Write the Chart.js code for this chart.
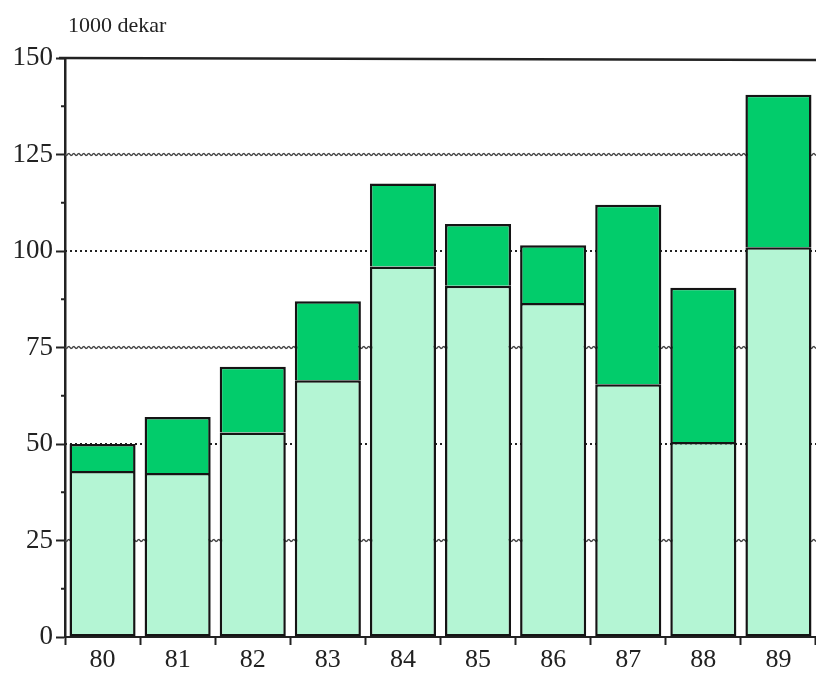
<!DOCTYPE html>
<html>
<head>
<meta charset="utf-8">
<style>
  html, body { margin: 0; padding: 0; background: #fff; }
  #wrap { width: 816px; height: 692px; }
</style>
<script src="https://cdn.jsdelivr.net/npm/chart.js@4.4.1/dist/chart.umd.min.js"></script>
</head>
<body>
<div id="wrap"><canvas id="grafico"></canvas></div>
<script>
'use strict';

// Datos (1000 dekar)
const ANIOS = ['80', '81', '82', '83', '84', '85', '86', '87', '88', '89'];
const PARTE_BAJA = [43, 42.5, 53, 66.5, 96, 91, 86.5, 65.5, 50.5, 101];
const PARTE_ALTA = [7, 14.5, 17, 20.5, 21.5, 16, 15, 46.5, 40, 39.5];
const TICKS_Y = [0, 25, 50, 75, 100, 125, 150];
const TICKS_MENORES = [12.5, 37.5, 62.5, 87.5, 112.5, 137.5];
const LINEAS_PUNTEADAS = [50, 100];
const LINEAS_ONDULADAS = [25, 75, 125];

const FUENTE = '"Liberation Serif", "DejaVu Serif", serif';

// Lineas de fondo, marco superior y marcas menores
const pluginFondo = {
    id: 'fondo',
    beforeDatasetsDraw(chart) {
        const { ctx, chartArea: a, scales: { y } } = chart;
        ctx.save();
        // punteadas
        ctx.strokeStyle = '#222';
        ctx.lineWidth = 2;
        ctx.setLineDash([2, 3]);
        LINEAS_PUNTEADAS.forEach(v => {
            const py = y.getPixelForValue(v);
            ctx.beginPath();
            ctx.moveTo(a.left, py);
            ctx.lineTo(a.right, py);
            ctx.stroke();
        });
        ctx.setLineDash([]);
        // onduladas
        ctx.strokeStyle = '#444';
        ctx.lineWidth = 1.3;
        LINEAS_ONDULADAS.forEach(v => {
            const py = y.getPixelForValue(v);
            ctx.beginPath();
            for (let x = a.left; x <= a.right; x += 1) {
                const yy = py + Math.sin((x - a.left) * Math.PI / 2.5) * 1.1;
                if (x === a.left) ctx.moveTo(x, yy); else ctx.lineTo(x, yy);
            }
            ctx.stroke();
        });
        ctx.restore();
    },
    afterDraw(chart) {
        const { ctx, chartArea: a, scales: { y } } = chart;
        ctx.save();
        // marco superior
        ctx.strokeStyle = '#222';
        ctx.lineWidth = 2.5;
        const top = y.getPixelForValue(150);
        ctx.beginPath();
        ctx.moveTo(a.left - 6, top);
        ctx.lineTo(a.right, top + 2);
        ctx.stroke();
        // marcas menores
        ctx.lineWidth = 2;
        TICKS_MENORES.forEach(v => {
            const py = y.getPixelForValue(v);
            ctx.beginPath();
            ctx.moveTo(a.left - 4, py);
            ctx.lineTo(a.left, py);
            ctx.stroke();
        });
        // unidad
        ctx.fillStyle = '#222';
        ctx.font = '22px ' + FUENTE;
        ctx.textBaseline = 'alphabetic';
        ctx.textAlign = 'left';
        ctx.fillText('1000 dekar', a.left + 3, top - 26);
        ctx.restore();
    }
};

new Chart(document.getElementById('grafico'), {
    type: 'bar',
    data: {
        labels: ANIOS,
        datasets: [{
            label: 'baja',
            data: PARTE_BAJA,
            backgroundColor: '#b4f5d4',
            borderColor: '#141414',
            borderWidth: 2.5,
            borderSkipped: false
        }, {
            label: 'alta',
            data: PARTE_ALTA,
            backgroundColor: '#02cc6b',
            borderColor: '#141414',
            borderWidth: 2.5,
            borderSkipped: 'bottom'
        }]
    },
    options: {
        responsive: true,
        maintainAspectRatio: false,
        animation: false,
        layout: { padding: { top: 58, right: 0, left: 0, bottom: 0 } },
        plugins: {
            legend: { display: false },
            tooltip: { enabled: false }
        },
        datasets: {
            bar: { categoryPercentage: 1.0, barPercentage: 0.88 }
        },
        scales: {
            x: {
                stacked: true,
                afterFit(scale) { scale.height = 55; },
                border: { color: '#222', width: 2 },
                grid: {
                    offset: true,
                    drawOnChartArea: false,
                    tickLength: 8,
                    tickWidth: 2,
                    tickColor: '#222'
                },
                ticks: {
                    color: '#222',
                    padding: 0,
                    font: { family: FUENTE, size: 26 }
                }
            },
            y: {
                stacked: true,
                min: 0,
                max: 150,
                afterFit(scale) { scale.width = 65; },
                afterBuildTicks(scale) {
                    scale.ticks = TICKS_Y.map(v => ({ value: v }));
                },
                border: { color: '#222', width: 2.5 },
                grid: {
                    drawOnChartArea: false,
                    tickLength: 9,
                    tickWidth: 2,
                    tickColor: '#222'
                },
                ticks: {
                    color: '#222',
                    padding: 3,
                    font: { family: FUENTE, size: 27 }
                }
            }
        }
    },
    plugins: [pluginFondo]
});
</script>
</body>
</html>
